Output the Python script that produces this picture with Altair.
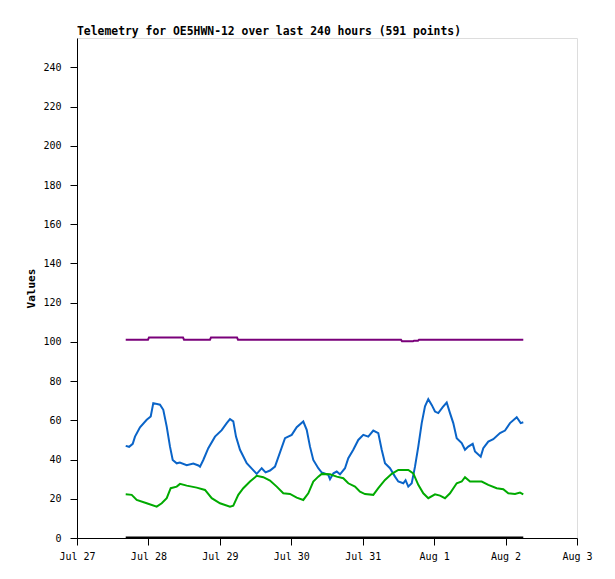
import altair as alt
import pandas as pd

TITLE = "Telemetry for OE5HWN-12 over last 240 hours (591 points)"
START = "2025-07-27"

# time offsets in days since Jul 27 00:00, with values
blue_t = [0.682, 0.73, 0.78, 0.812, 0.882, 0.976, 1.032, 1.068, 1.162, 1.208, 1.256, 1.302,
          1.340, 1.396, 1.44, 1.536, 1.628, 1.70, 1.722, 1.768, 1.838, 1.932, 2.026, 2.096,
          2.142, 2.188, 2.226, 2.282, 2.376, 2.516, 2.586, 2.64, 2.702, 2.772, 2.912, 3.006,
          3.076, 3.168, 3.216, 3.262, 3.308, 3.378, 3.426, 3.518, 3.542, 3.59, 3.636, 3.682,
          3.752, 3.798, 3.868, 3.938, 4.008, 4.078, 4.148, 4.218, 4.266, 4.312, 4.382, 4.452,
          4.498, 4.568, 4.60, 4.638, 4.686, 4.732, 4.778, 4.826, 4.872, 4.918, 4.966, 5.012,
          5.058, 5.120, 5.176, 5.222, 5.268, 5.316, 5.386, 5.432, 5.478, 5.540, 5.572, 5.652,
          5.688, 5.758, 5.828, 5.922, 5.992, 6.062, 6.156, 6.212, 6.248]
blue_v = [47.0, 46.5, 48.0, 51.7, 56.5, 60.3, 62.0, 68.8, 68.0, 65.4, 56.8, 46.6,
          39.8, 38.1, 38.5, 37.1, 38.0, 37.0, 36.4, 39.8, 45.8, 51.7, 55.0, 58.6,
          60.6, 59.5, 51.7, 45.0, 38.1, 32.7, 35.6, 33.5, 34.4, 36.4, 50.9, 52.6,
          56.5, 59.4, 55.2, 46.6, 39.8, 35.6, 33.4, 32.2, 30.0, 33.0, 33.9, 32.5,
          35.6, 40.7, 45.0, 50.0, 52.6, 51.7, 54.8, 53.5, 45.0, 38.1, 35.6, 31.3,
          28.8, 27.9, 29.5, 26.2, 27.9, 36.4, 46.6, 58.6, 67.1, 70.8, 67.9, 64.5,
          63.7, 66.7, 69.1, 63.7, 58.6, 50.9, 48.4, 45.0, 46.6, 48.0, 44.1, 41.5,
          45.8, 49.2, 50.4, 53.5, 54.8, 58.6, 61.6, 58.6, 59.0]

green_t = [0.682, 0.766, 0.836, 0.976, 1.116, 1.186, 1.256, 1.312, 1.396, 1.442, 1.536, 1.676,
           1.792, 1.886, 2.002, 2.142, 2.188, 2.258, 2.328, 2.422, 2.516, 2.608, 2.702, 2.796,
           2.888, 2.982, 3.076, 3.168, 3.238, 3.308, 3.378, 3.426, 3.542, 3.636, 3.728, 3.798,
           3.892, 3.962, 4.032, 4.148, 4.218, 4.312, 4.406, 4.498, 4.638, 4.708, 4.778, 4.848,
           4.918, 5.012, 5.082, 5.152, 5.222, 5.316, 5.386, 5.432, 5.502, 5.666, 5.758, 5.876,
           5.968, 6.038, 6.132, 6.202, 6.248]
green_v = [22.3, 22.0, 19.4, 17.7, 16.0, 17.7, 20.3, 25.4, 26.2, 27.6, 26.7, 25.7,
           24.5, 20.3, 17.7, 16.0, 16.5, 22.0, 25.4, 28.8, 31.7, 31.0, 29.3, 26.2,
           22.8, 22.5, 20.6, 19.4, 22.8, 28.8, 31.3, 32.7, 32.5, 31.3, 30.5, 27.9,
           26.2, 23.6, 22.4, 22.0, 25.4, 29.6, 32.7, 34.7, 34.7, 33.0, 27.1, 22.8,
           20.3, 22.3, 21.6, 20.3, 22.8, 27.9, 28.8, 31.0, 28.8, 28.8, 27.1, 25.4,
           24.9, 22.8, 22.5, 23.2, 22.3]

purple_t = [0.682, 0.994, 1.008, 1.484, 1.498, 1.862, 1.876, 2.240, 2.254, 4.536, 4.550,
            4.704, 4.718, 4.774, 4.788, 6.248]
purple_v = [101.1, 101.1, 102.3, 102.3, 101.1, 101.1, 102.3, 102.3, 101.1, 101.1, 100.3,
            100.3, 100.6, 100.6, 101.1, 101.1]

black_t = [0.682, 6.248]
black_v = [0.3, 0.3]

series_names = ["black", "purple", "blue", "green"]
series_colors = ["#000000", "#7a007a", "#0a64c8", "#00aa00"]

base = pd.Timestamp(START)
frames = []
for name, t, v in [("black", black_t, black_v), ("purple", purple_t, purple_v),
                   ("blue", blue_t, blue_v), ("green", green_t, green_v)]:
    ts = [(base + pd.to_timedelta(d, unit="D")).strftime("%Y-%m-%dT%H:%M:%S") for d in t]
    frames.append(pd.DataFrame({"time": ts, "value": v, "series": name}))
df = pd.concat(frames, ignore_index=True)

day_ticks = [alt.DateTime(year=2025, month=7, date=d) for d in range(27, 32)] + \
            [alt.DateTime(year=2025, month=8, date=d) for d in range(1, 4)]

MONO = "DejaVu Sans Mono"

chart = alt.Chart(df).mark_line(strokeWidth=2).encode(
    x=alt.X("time:T",
            scale=alt.Scale(domain=[alt.DateTime(year=2025, month=7, date=27),
                                    alt.DateTime(year=2025, month=8, date=3)], nice=False),
            axis=alt.Axis(values=day_ticks, format="%b %-d", title=None, grid=False,
                          tickSize=7, labelPadding=6, labelFont=MONO, labelFontSize=10,
                          labelColor="#000", domainColor="#000", tickColor="#000",
                          labelAngle=0, labelFlush=False, labelOverlap=False)),
    y=alt.Y("value:Q",
            scale=alt.Scale(domain=[0, 255], nice=False, zero=True),
            axis=alt.Axis(values=list(range(0, 241, 20)), title="Values", grid=False,
                          tickSize=7, labelPadding=9, labelFont=MONO, labelFontSize=10,
                          labelColor="#000", domainColor="#000", tickColor="#000",
                          titleFont=MONO, titleFontSize=11, titleFontWeight="bold",
                          titleColor="#000", titlePadding=6, labelFlush=False)),
    color=alt.Color("series:N", scale=alt.Scale(domain=series_names, range=series_colors),
                    legend=None),
    detail="series:N",
    order=alt.Order("time:T"),
).properties(
    width=500, height=500,
    title=alt.TitleParams(TITLE, anchor="start", frame="group", font=MONO, fontSize=11.4,
                          fontWeight="bold", color="#000", offset=1),
    autosize=alt.AutoSizeParams(type="none"),
    padding={"left": 69, "top": 30, "right": 30, "bottom": 33},
).configure_view(stroke="#444444", strokeWidth=1).configure(background="white")

chart.save("out.html", embed_options={"renderer": "svg", "actions": False})
